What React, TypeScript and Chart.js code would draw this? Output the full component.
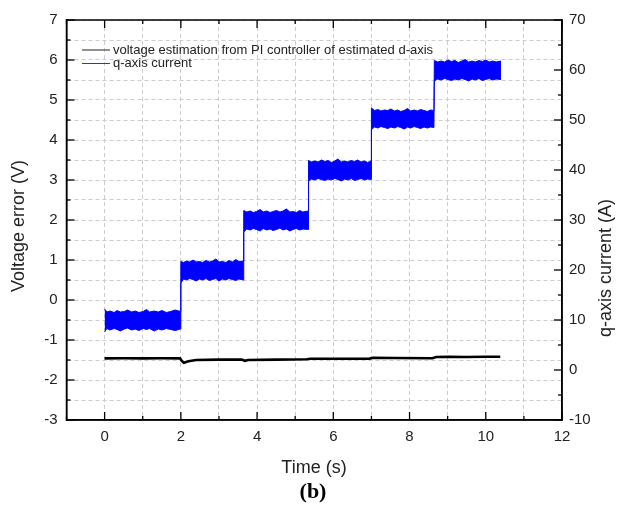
import React, { useEffect, useRef } from "react";
import { Chart, registerables } from "chart.js";

Chart.register(...registerables);

// ---- data ----
const voltTime = [0, 0.5, 1.0, 1.5, 1.98, 2.03, 2.08, 2.2, 2.4, 3.0, 3.6, 3.68, 3.76, 4.5, 5.3, 5.4, 6.0, 6.95, 7.05, 7.6, 8.6, 8.7, 9.0, 9.5, 10.0, 10.38];
const voltError = [-1.46, -1.455, -1.46, -1.455, -1.46, -1.53, -1.57, -1.53, -1.5, -1.49, -1.49, -1.52, -1.5, -1.49, -1.48, -1.47, -1.47, -1.465, -1.445, -1.45, -1.455, -1.425, -1.42, -1.425, -1.42, -1.42];

// q-axis current: noisy band described by its upper and lower envelope
const qTime = [
  0, 0.06, 0.14, 0.25, 0.33, 0.41, 0.52, 0.6, 0.71, 0.8, 0.9, 1.01, 1.1, 1.18, 1.3, 1.41, 1.5, 1.62, 1.73, 1.85, 1.99,
  2.0, 2.07, 2.15, 2.23, 2.32, 2.4, 2.49, 2.57, 2.66, 2.75, 2.83, 2.92, 3.0, 3.09, 3.18, 3.26, 3.35, 3.44, 3.52, 3.64,
  3.65, 3.73, 3.82, 3.9, 3.99, 4.08, 4.16, 4.25, 4.34, 4.42, 4.51, 4.6, 4.68, 4.77, 4.86, 4.94, 5.03, 5.12, 5.2, 5.34,
  5.35, 5.43, 5.52, 5.6, 5.69, 5.78, 5.86, 5.95, 6.04, 6.12, 6.21, 6.3, 6.38, 6.47, 6.56, 6.64, 6.73, 6.82, 6.9, 6.99,
  7.0, 7.08, 7.17, 7.25, 7.34, 7.43, 7.51, 7.6, 7.69, 7.77, 7.86, 7.95, 8.03, 8.12, 8.21, 8.29, 8.38, 8.47, 8.55, 8.64,
  8.65, 8.74, 8.83, 8.92, 9.01, 9.1, 9.19, 9.28, 9.37, 9.46, 9.55, 9.64, 9.73, 9.82, 9.91, 10.0, 10.09, 10.18, 10.27, 10.4,
];
const qUpper = [
  12.2, 11.6, 11.8, 11.5, 11.9, 11.6, 11.7, 12.0, 11.6, 11.8, 11.5, 11.7, 12.1, 11.6, 11.8, 11.6, 11.9, 11.5, 11.7, 12.0, 11.7,
  21.7, 21.5, 21.8, 21.6, 22.0, 21.6, 21.7, 21.5, 21.9, 21.6, 21.8, 22.2, 21.6, 21.7, 21.5, 21.9, 21.6, 22.1, 21.7, 21.8,
  31.9, 31.6, 31.8, 31.5, 31.7, 32.1, 31.6, 31.8, 31.5, 31.7, 31.9, 31.6, 31.8, 32.2, 31.6, 31.7, 31.5, 31.9, 31.6, 31.8,
  41.9, 41.6, 41.8, 41.6, 42.0, 41.7, 41.9, 41.5, 41.8, 42.2, 41.6, 41.8, 41.6, 41.9, 41.7, 42.0, 41.6, 41.8, 41.5, 41.8,
  52.4, 51.9, 52.1, 51.8, 52.0, 51.9, 52.2, 51.8, 52.0, 51.7, 51.9, 52.3, 51.8, 52.0, 51.8, 52.1, 51.9, 51.7, 52.0, 51.9,
  61.9, 61.6, 61.8, 61.6, 62.0, 61.7, 61.9, 61.5, 61.8, 62.1, 61.6, 61.8, 61.6, 61.9, 61.7, 62.0, 61.6, 61.8, 61.6, 61.8,
];
const qLower = [
  7.6, 8.3, 8.0, 8.3, 8.1, 7.8, 8.2, 8.4, 8.0, 8.2, 7.9, 8.3, 8.1, 8.3, 7.8, 8.2, 8.0, 8.3, 8.1, 7.9, 8.2,
  17.4, 18.2, 18.0, 18.3, 18.1, 17.8, 18.2, 18.0, 18.3, 17.9, 18.1, 18.3, 17.8, 18.2, 18.0, 18.3, 18.1, 17.9, 18.2, 18.0,
  27.6, 28.2, 28.0, 28.3, 28.1, 27.8, 28.3, 28.0, 28.2, 27.9, 28.1, 28.4, 28.0, 28.2, 27.8, 28.1, 28.3, 28.0, 28.2, 28.1,
  37.7, 38.2, 38.0, 38.3, 38.1, 37.9, 38.2, 38.0, 38.3, 38.1, 37.8, 38.2, 38.0, 38.3, 37.9, 38.1, 38.3, 38.0, 38.2, 38.1,
  48.1, 48.6, 48.4, 48.7, 48.5, 48.3, 48.6, 48.4, 48.7, 48.5, 48.2, 48.6, 48.4, 48.7, 48.5, 48.3, 48.6, 48.4, 48.6, 48.5,
  57.8, 58.2, 58.0, 58.3, 58.1, 57.9, 58.2, 58.0, 58.3, 58.1, 57.8, 58.2, 58.0, 58.3, 57.9, 58.1, 58.3, 58.0, 58.2, 58.1,
];

const xMajorTicks = [0, 2, 4, 6, 8, 10, 12];
const xMinorTicks = [-1, 1, 3, 5, 7, 9, 11];
const yMajorTicks = [-3, -2, -1, 0, 1, 2, 3, 4, 5, 6, 7];
const yMinorTicks = [-2.5, -1.5, -0.5, 0.5, 1.5, 2.5, 3.5, 4.5, 5.5, 6.5];
const y2MajorTicks = [-10, 0, 10, 20, 30, 40, 50, 60, 70];
const y2MinorTicks = [-5, 5, 15, 25, 35, 45, 55, 65];

const legendLabels = ["voltage estimation from PI controller of estimated d-axis", "q-axis current"];
const xTitle = "Time (s)";
const yTitle = "Voltage error (V)";
const y2Title = "q-axis current (A)";
const caption = "(b)";

const SANS = "'Liberation Sans', Arial, sans-serif";
const SERIF = "'Liberation Serif', 'Times New Roman', serif";

const decorPlugin = {
  id: "decor",
  afterDraw(chart: any) {
    const ctx = chart.ctx;
    const { left, right, top, bottom } = chart.chartArea;
    const sx = chart.scales.x;
    const sy = chart.scales.y;
    const sy2 = chart.scales.y2;
    ctx.save();
    // frame
    ctx.strokeStyle = "#000";
    ctx.lineWidth = 1.5;
    ctx.strokeRect(left, top, right - left, bottom - top);
    // tick marks (inward)
    ctx.lineWidth = 1.3;
    const seg = (x1: number, y1: number, x2: number, y2: number) => {
      ctx.beginPath();
      ctx.moveTo(x1, y1);
      ctx.lineTo(x2, y2);
      ctx.stroke();
    };
    xMajorTicks.forEach((v) => {
      const p = sx.getPixelForValue(v);
      seg(p, bottom, p, bottom - 8);
      seg(p, top, p, top + 8);
    });
    xMinorTicks.forEach((v) => {
      const p = sx.getPixelForValue(v);
      seg(p, bottom, p, bottom - 4);
      seg(p, top, p, top + 4);
    });
    yMajorTicks.forEach((v) => {
      const p = sy.getPixelForValue(v);
      seg(left, p, left + 8, p);
    });
    yMinorTicks.forEach((v) => {
      const p = sy.getPixelForValue(v);
      seg(left, p, left + 4, p);
    });
    y2MajorTicks.forEach((v) => {
      const p = sy2.getPixelForValue(v);
      seg(right, p, right - 8, p);
    });
    y2MinorTicks.forEach((v) => {
      const p = sy2.getPixelForValue(v);
      seg(right, p, right - 4, p);
    });

    // legend
    const legendColors = ["#222222", "#3030e0"];
    const legendY = [50, 63.5];
    ctx.lineWidth = 1;
    ctx.font = `13px ${SANS}`;
    ctx.textAlign = "left";
    ctx.textBaseline = "middle";
    legendLabels.forEach((lab, i) => {
      ctx.strokeStyle = legendColors[i];
      seg(82, legendY[i], 110, legendY[i]);
      ctx.fillStyle = "#222";
      ctx.fillText(lab, 113, legendY[i]);
    });

    // axis titles
    ctx.fillStyle = "#222";
    ctx.font = `18px ${SANS}`;
    ctx.textAlign = "center";
    ctx.fillText(xTitle, 314, 468);
    ctx.save();
    ctx.translate(19, 226);
    ctx.rotate(-Math.PI / 2);
    ctx.fillText(yTitle, 0, 0);
    ctx.restore();
    ctx.save();
    ctx.translate(606, 268);
    ctx.rotate(-Math.PI / 2);
    ctx.fillText(y2Title, 0, 0);
    ctx.restore();

    // caption
    ctx.fillStyle = "#000";
    ctx.font = `bold 22px ${SERIF}`;
    ctx.fillText(caption, 313, 492);
    ctx.restore();
  },
};

export default function App() {
  const ref = useRef<HTMLCanvasElement | null>(null);

  useEffect(() => {
    if (!ref.current) return;
    const tickFont = { family: SANS, size: 15 };
    const gridCommon = { color: "#cccccc", lineWidth: 1, drawTicks: false };
    const chart = new Chart(ref.current, {
      type: "line",
      data: {
        datasets: [
          {
            label: legendLabels[0],
            data: voltTime.map((t, i) => ({ x: t, y: voltError[i] })),
            borderColor: "#000000",
            borderWidth: 2.6,
            pointRadius: 0,
            fill: false,
            yAxisID: "y",
            tension: 0,
          },
          {
            label: "q upper",
            data: qTime.map((t, i) => ({ x: t, y: qUpper[i] })),
            borderColor: "#0000ff",
            borderWidth: 1,
            pointRadius: 0,
            fill: false,
            yAxisID: "y2",
            tension: 0,
          },
          {
            label: legendLabels[1],
            data: qTime.map((t, i) => ({ x: t, y: qLower[i] })),
            borderColor: "#0000ff",
            backgroundColor: "#0000ff",
            borderWidth: 1,
            pointRadius: 0,
            fill: "-1",
            yAxisID: "y2",
            tension: 0,
          },
        ],
      },
      options: {
        animation: false,
        responsive: false,
        layout: { padding: { top: 20, left: 0, right: 0, bottom: 0 } },
        plugins: { legend: { display: false }, tooltip: { enabled: false } },
        scales: {
          x: {
            type: "linear",
            min: -1,
            max: 12,
            ticks: {
              stepSize: 1,
              autoSkip: false,
              maxRotation: 0,
              padding: 8,
              color: "#222",
              font: tickFont,
              callback: (v: any) => (xMajorTicks.includes(Number(v)) ? String(v) : ""),
            },
            grid: gridCommon,
            border: { display: true, color: "#000", width: 1.5, dash: [4, 3] },
            afterFit: (s: any) => {
              s.height = 92;
            },
          },
          y: {
            type: "linear",
            position: "left",
            min: -3,
            max: 7,
            ticks: {
              stepSize: 0.5,
              autoSkip: false,
              padding: 9,
              color: "#222",
              font: tickFont,
              callback: (v: any) => (yMajorTicks.includes(Number(v)) ? String(v) : ""),
            },
            grid: gridCommon,
            border: { display: true, color: "#000", width: 1.5, dash: [4, 3] },
            afterFit: (s: any) => {
              s.width = 66.5;
            },
          },
          y2: {
            type: "linear",
            position: "right",
            min: -10,
            max: 70,
            ticks: {
              stepSize: 10,
              autoSkip: false,
              padding: 7,
              color: "#222",
              font: tickFont,
              callback: (v: any) => (y2MajorTicks.includes(Number(v)) ? String(v) : ""),
            },
            grid: { display: false, drawTicks: false },
            border: { display: true, color: "#000", width: 1.5 },
            afterFit: (s: any) => {
              s.width = 61;
            },
          },
        },
      },
      plugins: [decorPlugin],
    });
    return () => chart.destroy();
  }, []);

  return (
    <div style={{ position: "absolute", left: 0, top: 0, width: 623, height: 512, background: "#fff" }}>
      <canvas ref={ref} width={623} height={512} style={{ display: "block" }} />
    </div>
  );
}
